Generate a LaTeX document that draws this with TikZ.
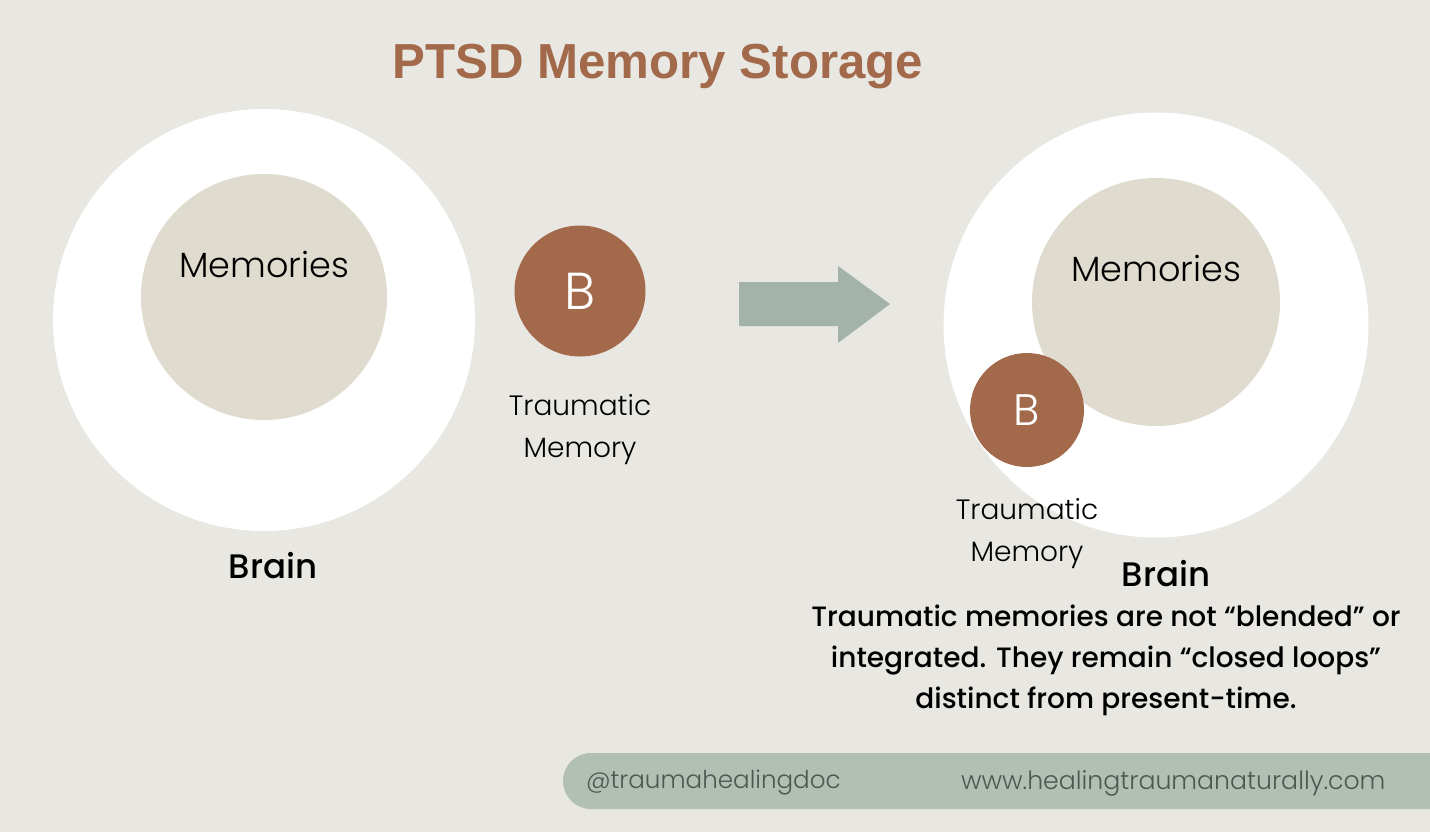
\documentclass[tikz,border=0pt]{standalone}
\usepackage{fontspec}
\setmainfont{Poppins}
\newfontfamily\headfont{Liberation Sans}
\newfontfamily\medfont{Poppins Medium}
\newfontfamily\thinfont{Poppins Light}
\definecolor{bg}{HTML}{E8E7E2}
\definecolor{rust}{HTML}{A2694A}
\definecolor{sand}{HTML}{E0DBCF}
\definecolor{sage}{HTML}{A3B3AB}
\definecolor{band}{HTML}{B1BFB5}
\definecolor{bandtext}{HTML}{4F574F}

\begin{document}
\begin{tikzpicture}[x=0.5pt, y=-0.5pt,
    brain/.style = {circle, fill=white, inner sep=0pt, minimum size=211pt},
    store/.style = {circle, fill=sand, inner sep=0pt, minimum size=123pt},
    trauma/.style = {circle, fill=rust, text=white, inner sep=0pt, font=\thinfont\fontsize{26}{30}\selectfont},
    label/.style = {align=center, font=\thinfont\fontsize{14}{21}\selectfont},
    bold/.style = {font=\medfont\fontsize{17}{24}\selectfont}]
    \useasboundingbox (0,0) rectangle (1430,832);
    \fill[bg] (0,0) rectangle (1430,832);

    \node[text=rust, font=\headfont\fontsize{24.6}{30}\selectfont\bfseries] (0) at (658,67) {PTSD Memory Storage};

    % before
    \node[brain] (1) at (264,320) {};
    \node[store] (2) at (264,297) {};
    \node[font=\thinfont\fontsize{17.5}{24}\selectfont] (3) at (264,264) {Memories};
    \node[trauma, minimum size=65.5pt] (4) at (580,291) {B};
    \node[label] (5) at (580,430) {Traumatic\\Memory};
    \node[bold] (6) at (273,566) {Brain};

    % arrow
    \fill[sage] (739,282) -- (838,282) -- (838,266) -- (890,304) -- (838,343) -- (838,326) -- (739,326) -- cycle;

    % after
    \node[brain, minimum size=212.5pt] (7) at (1156,325) {};
    \node[store, minimum size=124pt] (8) at (1156,302) {};
    \node[font=\thinfont\fontsize{17.5}{24}\selectfont] (9) at (1156,268) {Memories};
    \node[trauma, minimum size=57pt, font=\thinfont\fontsize{22}{26}\selectfont] (10) at (1027,410) {B};
    \node[label] (11) at (1027,534) {Traumatic\\Memory};
    \node[bold] (12) at (1166,574) {Brain};
    \node[align=center, font=\medfont\fontsize{14}{20.5}\selectfont] (13) at (1106,660)
        {Traumatic memories are not “blended” or\\integrated. They remain “closed loops”\\distinct from present-time.};

    % footer
    \fill[band, rounded corners=14pt] (563,753) rectangle (1470,809);
    \node[text=bandtext, anchor=west, font=\thinfont\fontsize{12.3}{16}\selectfont] (14) at (579,783) {@traumahealingdoc};
    \node[text=bandtext, anchor=west, font=\thinfont\fontsize{12.6}{16}\selectfont] (15) at (954,783) {www.healingtraumanaturally.com};
\end{tikzpicture}
\end{document}
